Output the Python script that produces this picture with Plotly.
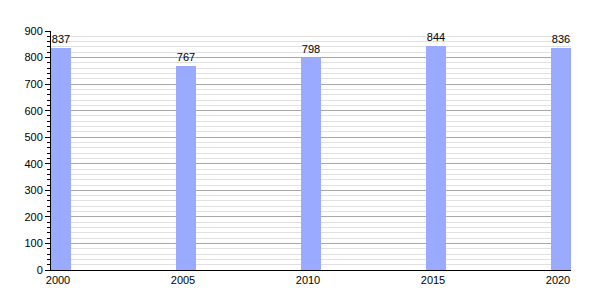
import plotly.graph_objects as go

years = [2000, 2005, 2010, 2015, 2020]
population = [837, 767, 798, 844, 836]
tick_labels = ["2000", "2005", "2010", "2015", "2020"]

fig = go.Figure()
fig.add_trace(go.Bar(
    x=years, y=population, width=0.8, offset=0,
    marker=dict(color="#99aaff", line=dict(width=0)),
    text=[str(v) for v in population], textposition="outside",
    textfont=dict(family="Liberation Sans, Arial", size=11, color="black"),
    cliponaxis=False,
))
fig.update_layout(
    width=600, height=300,
    margin=dict(l=51, r=29, t=31, b=30),
    paper_bgcolor="white", plot_bgcolor="white",
    showlegend=False, bargap=0,
    font=dict(family="Liberation Sans, Arial", size=11, color="black"),
    xaxis=dict(
        range=[2000, 2020.8], tickvals=[y + 0.28 for y in years], ticktext=tick_labels,
        showgrid=False, zeroline=False, showline=True, linecolor="black", linewidth=1,
        ticks="", tickfont=dict(size=11, color="#000000"),
    ),
    yaxis=dict(
        range=[0, 900], dtick=100, tick0=0,
        showgrid=True, gridcolor="#a8a8a8", gridwidth=1,
        zeroline=False, showline=True, linecolor="black", linewidth=1,
        ticks="outside", ticklen=5, tickcolor="black", tickfont=dict(size=11, color="#000000"),
        minor=dict(dtick=20, showgrid=True, gridcolor="#e0e0e0", ticks="outside", ticklen=3, tickcolor="black"),
    ),
)
fig.write_html("out.html")
